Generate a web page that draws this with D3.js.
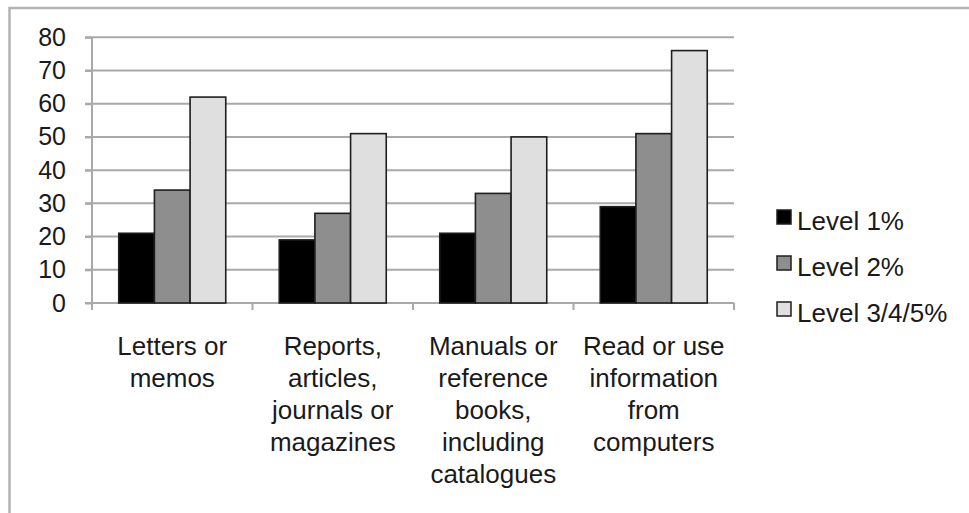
<!DOCTYPE html>
<html>
<head>
<meta charset="utf-8">
<script src="https://cdn.jsdelivr.net/npm/d3@7"></script>
<style>
  html, body { margin: 0; padding: 0; background: #fff; }
  svg { display: block; font-family: "Liberation Sans", Arial, Helvetica, sans-serif; }
</style>
</head>
<body>
<svg id="chart" width="969" height="513"></svg>
<script>
const categories = ["Letters or memos", "Reports, articles, journals or magazines", "Manuals or reference books, including catalogues", "Read or use information from computers"];
const categoryLines = [
  ["Letters or", "memos"],
  ["Reports,", "articles,", "journals or", "magazines"],
  ["Manuals or", "reference", "books,", "including", "catalogues"],
  ["Read or use", "information", "from", "computers"]
];
const seriesNames = ["Level 1%", "Level 2%", "Level 3/4/5%"];
const level1 = [21, 19, 21, 29];
const level2 = [34, 27, 33, 51];
const level345 = [62, 51, 50, 76];
const yTicks = [0, 10, 20, 30, 40, 50, 60, 70, 80];
const seriesColors = ["#000000", "#8e8e8e", "#dfdfdf"];

const seriesValues = [level1, level2, level345];

const svg = d3.select("#chart");
const plotLeft = 92, plotRight = 734, plotTop = 37.3, plotBottom = 303;

// outer frame
svg.append("rect")
  .attr("x", 9.5).attr("y", 8).attr("width", 1000).attr("height", 600)
  .attr("fill", "none").attr("stroke", "#b3b3b3").attr("stroke-width", 2.5);

const x0 = d3.scaleBand().domain(categories).range([plotLeft, plotRight]).paddingInner(0).paddingOuter(0);
const x1 = d3.scaleBand().domain(seriesNames).range([0, x0.bandwidth()]).paddingInner(0).paddingOuter(0.75);
const y = d3.scaleLinear().domain([0, 80]).range([plotBottom, plotTop]);

// gridlines
svg.append("g").selectAll("line").data(yTicks.filter(d => d > 0)).join("line")
  .attr("x1", plotLeft - 7).attr("x2", plotRight)
  .attr("y1", d => y(d)).attr("y2", d => y(d))
  .attr("stroke", "#a9a9a9").attr("stroke-width", 2);

// y axis
const yAxis = d3.axisLeft(y).tickValues(yTicks).tickSize(7).tickPadding(19).tickFormat(d3.format("d"));
const gy = svg.append("g").attr("transform", `translate(${plotLeft},0)`).call(yAxis);
gy.select(".domain").attr("stroke", "#a9a9a9").attr("stroke-width", 2).attr("d", `M0,${plotTop}V${plotBottom + 7}`);
gy.selectAll(".tick line").attr("stroke", "#a9a9a9").attr("stroke-width", 2);
gy.selectAll(".tick text").attr("font-size", 25).attr("fill", "#1a1a1a")
  .attr("font-family", "'Liberation Sans', Arial, sans-serif");

// x axis line and ticks at category boundaries
const boundaries = categories.map(c => x0(c)).concat([plotRight]);
svg.append("line").attr("x1", plotLeft - 7).attr("x2", plotRight).attr("y1", plotBottom).attr("y2", plotBottom)
  .attr("stroke", "#a9a9a9").attr("stroke-width", 2);
svg.append("g").selectAll("line").data(boundaries).join("line")
  .attr("x1", d => d).attr("x2", d => d).attr("y1", plotBottom).attr("y2", plotBottom + 7)
  .attr("stroke", "#a9a9a9").attr("stroke-width", 2);

// bars
const groups = svg.append("g").selectAll("g").data(categories).join("g")
  .attr("transform", c => `translate(${x0(c)},0)`);
groups.selectAll("rect").data((c, i) => seriesNames.map((s, j) => ({ s, j, v: seriesValues[j][i] }))).join("rect")
  .attr("x", d => x1(d.s))
  .attr("width", x1.bandwidth())
  .attr("y", d => y(d.v))
  .attr("height", d => y(0) - y(d.v))
  .attr("fill", d => seriesColors[d.j])
  .attr("stroke", "#1e1e1e").attr("stroke-width", 1.6);

// x labels
const labels = svg.append("g").selectAll("text").data(categories).join("text")
  .attr("text-anchor", "middle")
  .attr("font-size", 26).attr("fill", "#1a1a1a")
  .attr("transform", c => `translate(${x0(c) + x0.bandwidth() / 2},355)`);
labels.selectAll("tspan").data((c, i) => categoryLines[i]).join("tspan")
  .attr("x", 0).attr("y", (d, k) => k * 32).text(d => d);

// legend
const legend = svg.append("g").selectAll("g").data(seriesNames).join("g")
  .attr("transform", (d, i) => `translate(777,${210 + i * 46})`);
legend.append("rect").attr("width", 14).attr("height", 14)
  .attr("fill", (d, i) => seriesColors[i]).attr("stroke", "#1e1e1e").attr("stroke-width", 1.5);
legend.append("text").attr("x", 20).attr("y", 20).attr("font-size", 26).attr("fill", "#1a1a1a").text(d => d);
</script>
</body>
</html>
